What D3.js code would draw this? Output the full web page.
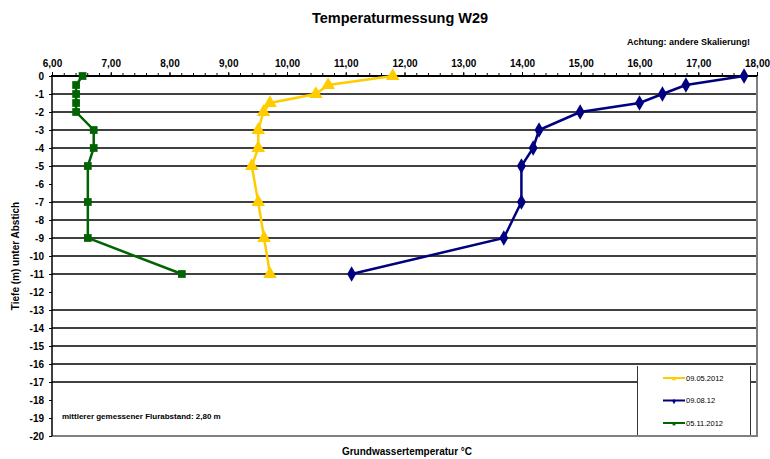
<!DOCTYPE html>
<html>
<head>
<meta charset="utf-8">
<script src="https://cdn.jsdelivr.net/npm/d3@7"></script>
<style>
  body { margin: 0; background: #fff; }
  svg text { font-family: "Liberation Sans", Arial, sans-serif; }
</style>
</head>
<body>
<svg id="chart" width="770" height="459"></svg>
<script>
// depths in m (negative = below Abstich)
const depthsMay = [0, -0.5, -1, -1.5, -2, -3, -4, -5, -7, -9, -11];
const tempMay = [11.80, 10.70, 10.49, 9.71, 9.60, 9.51, 9.51, 9.40, 9.51, 9.61, 9.71];
const depthsAug = [0, -0.5, -1, -1.5, -2, -3, -4, -5, -7, -9, -11];
const tempAug = [17.78, 16.79, 16.39, 16.00, 14.99, 14.29, 14.19, 13.99, 13.99, 13.69, 11.10];
const depthsNov = [0, -0.5, -1, -1.5, -2, -3, -4, -5, -7, -9, -11];
const tempNov = [6.52, 6.41, 6.41, 6.41, 6.41, 6.71, 6.71, 6.61, 6.61, 6.61, 8.21];

const seriesNames = ["09.05.2012", "09.08.12", "05.11.2012"];
const xTicks = d3.range(6, 18.001, 1);
const yTicks = d3.range(0, -20.001, -1);
const gridDepths = [0, -1, -2, -3, -4, -5, -7, -8, -9, -10, -11, -13, -14, -15, -16, -17];

let svg = d3.select("#chart");
let xscale = d3.scaleLinear().domain([6, 18]).range([52, 757]);
let yscale = d3.scaleLinear().domain([0, -20]).range([76, 436]);

const series = [
    { name: seriesNames[0], color: "#ffcc00", shape: d3.symbolTriangle, size: 80,
      data: depthsMay.map((d, i) => ({ depth: d, temp: tempMay[i] })) },
    { name: seriesNames[1], color: "#000080", shape: d3.symbolDiamond, size: 70,
      data: depthsAug.map((d, i) => ({ depth: d, temp: tempAug[i] })) },
    { name: seriesNames[2], color: "#006400", shape: d3.symbolSquare, size: 60,
      data: depthsNov.map((d, i) => ({ depth: d, temp: tempNov[i] })) }
];

// gridlines
svg.append("g").selectAll("line")
    .data(gridDepths)
    .enter().append("line")
    .attr("x1", xscale(6)).attr("x2", xscale(18))
    .attr("y1", d => yscale(d)).attr("y2", d => yscale(d))
    .attr("stroke", "#000")
    .attr("stroke-width", 1.5);

// plot border right/bottom
svg.append("line").attr("x1", xscale(18)).attr("x2", xscale(18))
    .attr("y1", yscale(0)).attr("y2", yscale(-20))
    .attr("stroke", "#808080").attr("stroke-width", 2);
svg.append("line").attr("x1", xscale(6)).attr("x2", xscale(18) + 1)
    .attr("y1", yscale(-20)).attr("y2", yscale(-20))
    .attr("stroke", "#808080").attr("stroke-width", 2);

// axes
let minorAxis = d3.axisTop(xscale).tickValues(d3.range(6, 18.001, 0.2)).tickSize(3).tickFormat("");
let xAxis = d3.axisTop(xscale).tickValues(xTicks).tickSize(4).tickPadding(5)
    .tickFormat(d => d.toFixed(2).replace(".", ","));
let yAxis = d3.axisLeft(yscale).tickValues(yTicks).tickSize(3).tickPadding(5)
    .tickFormat(d => d3.format("d")(d).replace("−", "-"));

const gxm = svg.append("g").attr("transform", `translate(0, ${yscale(0)})`).call(minorAxis);
const gx = svg.append("g").attr("transform", `translate(0, ${yscale(0)})`).call(xAxis);
const gy = svg.append("g").attr("transform", `translate(${xscale(6)}, 0)`).call(yAxis);

[gxm, gx, gy].forEach(g => {
    g.select(".domain").remove();
    g.selectAll(".tick line").attr("stroke", "#000").attr("stroke-width", 1);
    g.selectAll("text").attr("font-size", 10).attr("font-weight", "bold").attr("fill", "#000");
});

svg.append("line").attr("x1", xscale(6) - 1).attr("x2", xscale(18))
    .attr("y1", yscale(0)).attr("y2", yscale(0))
    .attr("stroke", "#000").attr("stroke-width", 2);
svg.append("line").attr("x1", xscale(6)).attr("x2", xscale(6))
    .attr("y1", yscale(0)).attr("y2", yscale(-20))
    .attr("stroke", "#000").attr("stroke-width", 1.5);

// series lines and markers
let line = d3.line().x(d => xscale(d.temp)).y(d => yscale(d.depth));
series.forEach(s => {
    svg.append("path").datum(s.data)
        .attr("d", line)
        .attr("fill", "none")
        .attr("stroke", s.color)
        .attr("stroke-width", 2.5);
    svg.append("g").selectAll("path")
        .data(s.data)
        .enter().append("path")
        .attr("d", d3.symbol().type(s.shape).size(s.size))
        .attr("transform", d => `translate(${xscale(d.temp)}, ${yscale(d.depth)})`)
        .attr("fill", s.color);
});

// legend
const lg = svg.append("g");
lg.append("rect").attr("x", 637).attr("y", 366).attr("width", 114).attr("height", 69).attr("fill", "#fff");
lg.append("line").attr("x1", 637.5).attr("x2", 637.5).attr("y1", 366).attr("y2", 435).attr("stroke", "#333");
lg.append("line").attr("x1", 750.5).attr("x2", 750.5).attr("y1", 366).attr("y2", 435).attr("stroke", "#333");
series.forEach((s, i) => {
    let yy = 378 + i * 22.5;
    lg.append("line").attr("x1", 663).attr("x2", 685).attr("y1", yy).attr("y2", yy)
        .attr("stroke", s.color).attr("stroke-width", 2);
    lg.append("path").attr("d", d3.symbol().type(s.shape).size(8))
        .attr("transform", `translate(674, ${yy + 1})`).attr("fill", s.color);
    lg.append("text").attr("x", 686).attr("y", yy + 2.5)
        .attr("font-size", 7.5).attr("fill", "#000").text(s.name);
});

// texts
svg.append("text").attr("x", 400).attr("y", 23).attr("text-anchor", "middle")
    .attr("font-size", 14.5).attr("font-weight", "bold").text("Temperaturmessung W29");
svg.append("text").attr("x", 750).attr("y", 45).attr("text-anchor", "end")
    .attr("font-size", 9).attr("font-weight", "bold").text("Achtung: andere Skalierung!");
svg.append("text").attr("x", 407).attr("y", 455).attr("text-anchor", "middle")
    .attr("font-size", 10).attr("font-weight", "bold").text("Grundwassertemperatur °C");
svg.append("text").attr("transform", `translate(19, ${yscale(-10)}) rotate(-90)`)
    .attr("text-anchor", "middle")
    .attr("font-size", 10).attr("font-weight", "bold").text("Tiefe (m) unter Abstich");
svg.append("text").attr("x", 62).attr("y", 419)
    .attr("font-size", 8).attr("font-weight", "bold").text("mittlerer gemessener Flurabstand: 2,80 m");
</script>
</body>
</html>
